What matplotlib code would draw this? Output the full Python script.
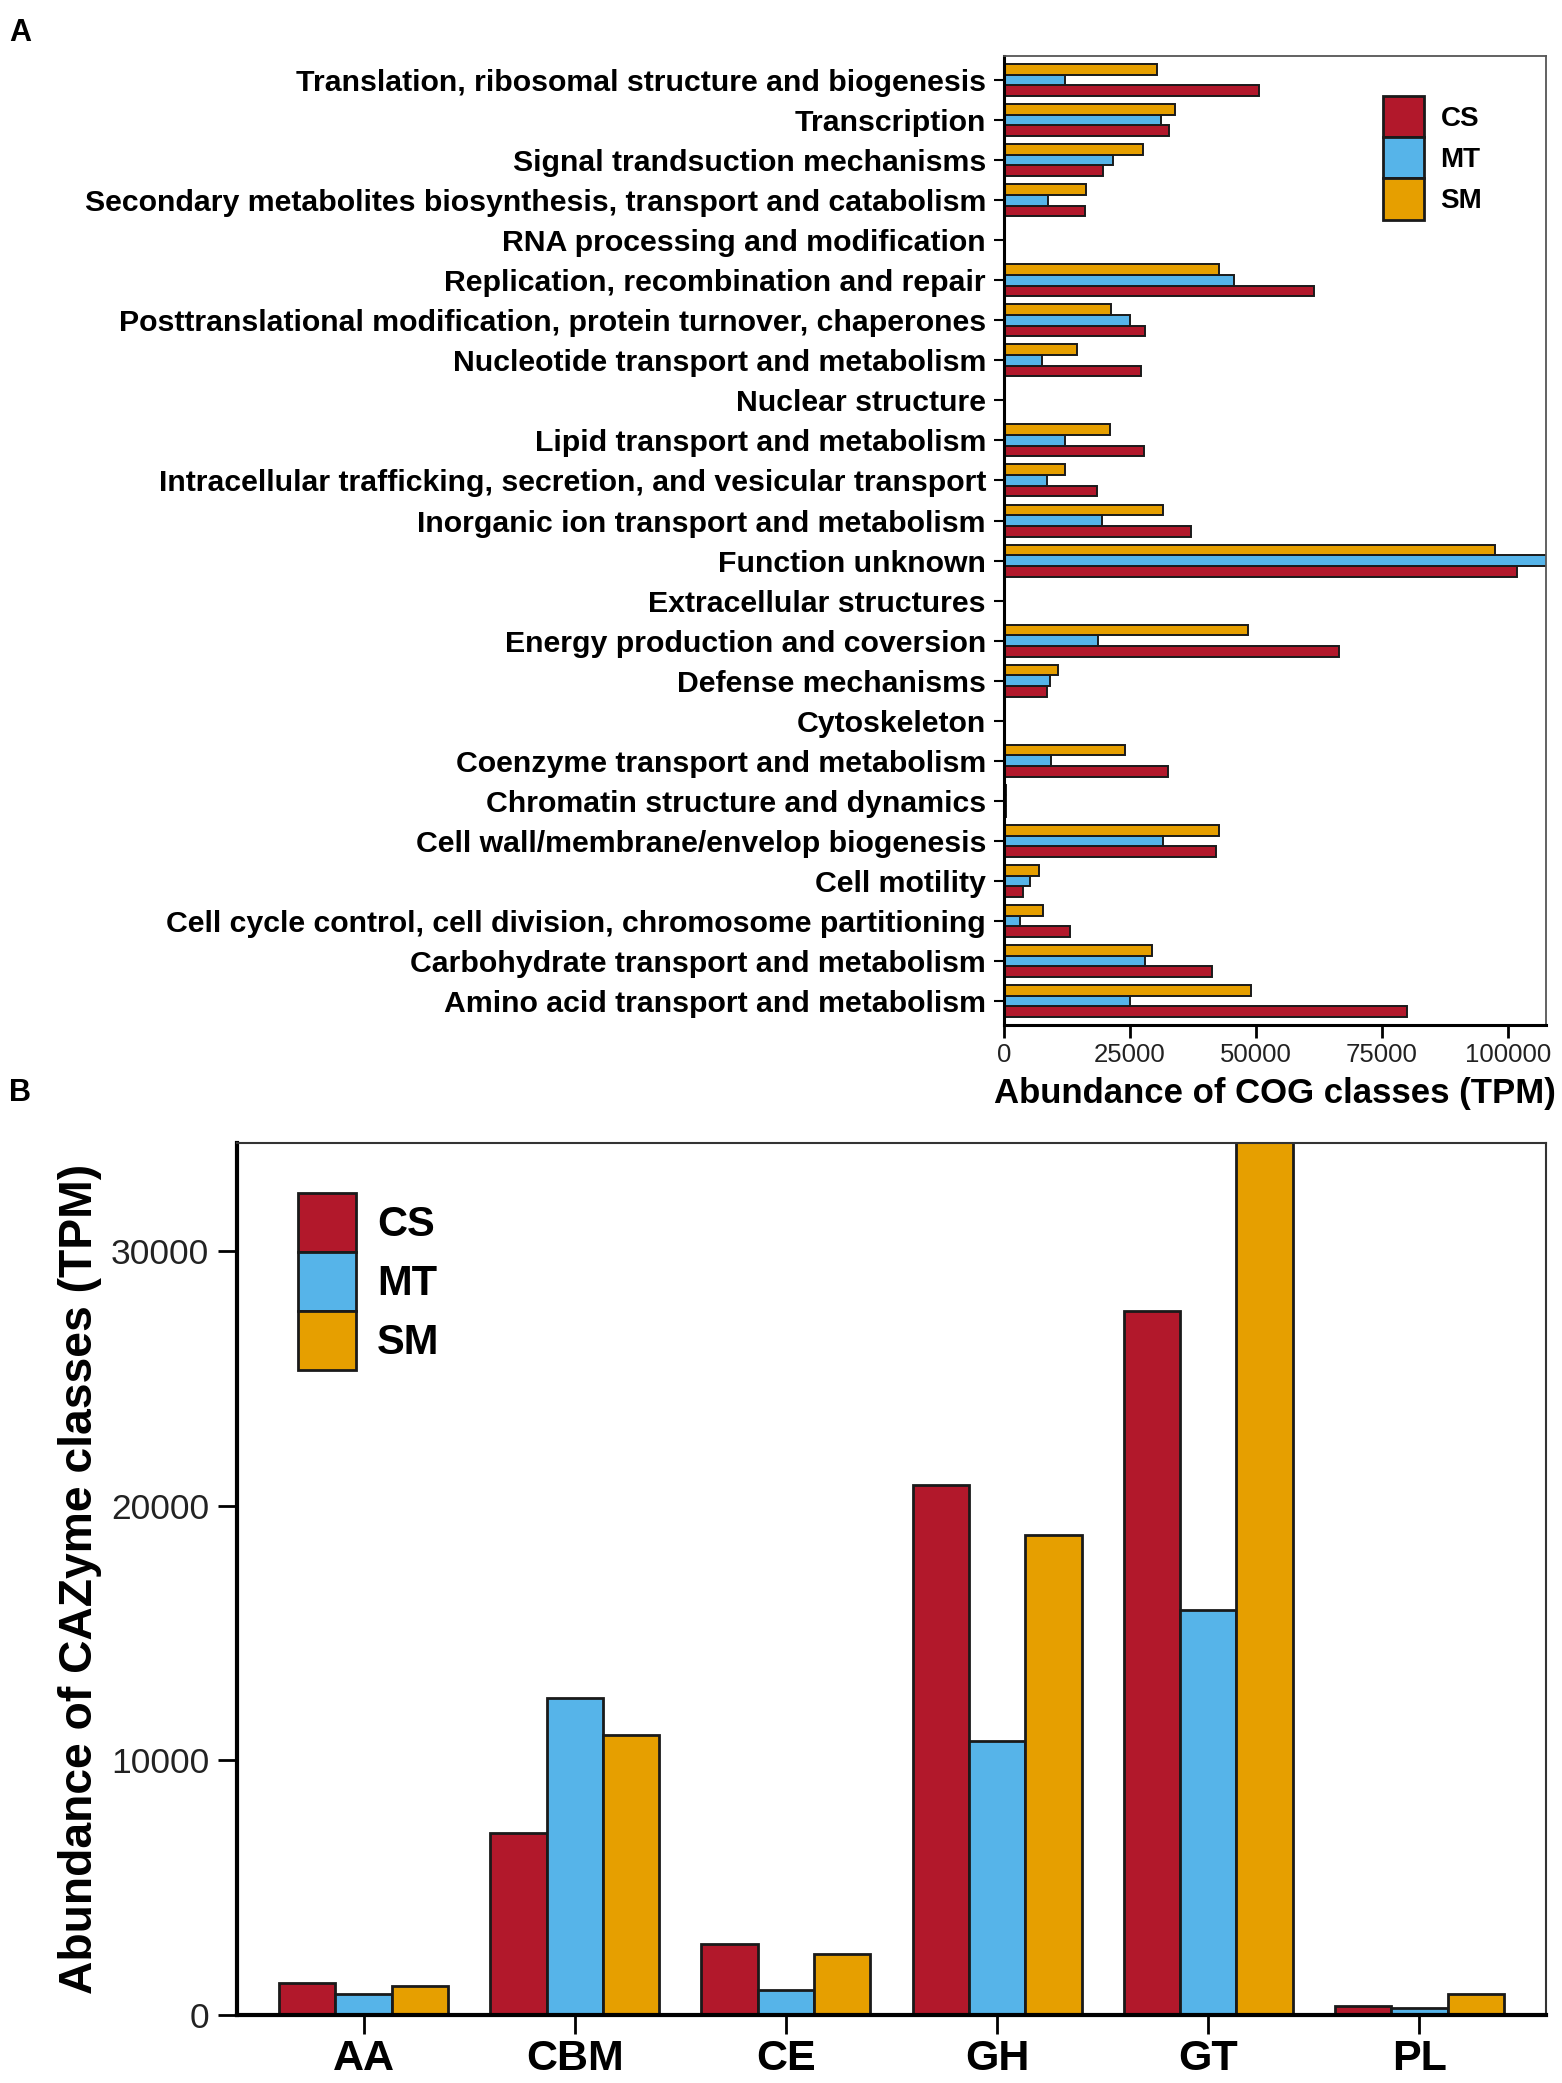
import numpy as np
import matplotlib
matplotlib.use('Agg')
import matplotlib.pyplot as plt

plt.rcParams['font.family'] = ['Liberation Sans', 'DejaVu Sans']

# panel A: COG classes, listed top to bottom as in the figure
cog_classes = [
    'Translation, ribosomal structure and biogenesis',
    'Transcription',
    'Signal trandsuction mechanisms',
    'Secondary metabolites biosynthesis, transport and catabolism',
    'RNA processing and modification',
    'Replication, recombination and repair',
    'Posttranslational modification, protein turnover, chaperones',
    'Nucleotide transport and metabolism',
    'Nuclear structure',
    'Lipid transport and metabolism',
    'Intracellular trafficking, secretion, and vesicular transport',
    'Inorganic ion transport and metabolism',
    'Function unknown',
    'Extracellular structures',
    'Energy production and coversion',
    'Defense mechanisms',
    'Cytoskeleton',
    'Coenzyme transport and metabolism',
    'Chromatin structure and dynamics',
    'Cell wall/membrane/envelop biogenesis',
    'Cell motility',
    'Cell cycle control, cell division, chromosome partitioning',
    'Carbohydrate transport and metabolism',
    'Amino acid transport and metabolism',
]
cog_cs = [50700, 32800, 19700, 16000, 150, 61600, 28000, 27200, 0, 27700, 18400, 37100,
          101800, 100, 66400, 8500, 100, 32500, 400, 42100, 3700, 13100, 41300, 80000]
cog_mt = [12000, 31200, 21600, 8800, 100, 45600, 25100, 7500, 0, 12000, 8500, 19500,
          110000, 50, 18700, 9100, 50, 9300, 300, 31500, 5100, 3200, 28000, 25100]
cog_sm = [30400, 33900, 27500, 16300, 150, 42700, 21300, 14400, 0, 21100, 12000, 31500,
          97500, 100, 48500, 10700, 100, 24000, 400, 42700, 6900, 7700, 29300, 49100]

# panel B: CAZyme classes
caz_classes = ['AA', 'CBM', 'CE', 'GH', 'GT', 'PL']
caz_cs = [1250, 7140, 2810, 20830, 27660, 360]
caz_mt = [830, 12450, 990, 10780, 15890, 260]
caz_sm = [1150, 10990, 2400, 18850, 36000, 830]

groups = ['CS', 'MT', 'SM']
colors = {'CS': '#B2182B', 'MT': '#56B4E9', 'SM': '#E69F00'}
edge = '#1a1a1a'

fig = plt.figure(figsize=(15.62, 20.83), dpi=100)

# ---------- panel A ----------
axA = fig.add_axes([0.6428, 0.5079, 0.3470, 0.4652])
n = len(cog_classes)
ypos = np.arange(n)[::-1]
h = 0.8 / 3
axA.barh(ypos - h, cog_cs, height=h, color=colors['CS'], edgecolor=edge, linewidth=1.4, label='CS')
axA.barh(ypos, cog_mt, height=h, color=colors['MT'], edgecolor=edge, linewidth=1.4, label='MT')
axA.barh(ypos + h, cog_sm, height=h, color=colors['SM'], edgecolor=edge, linewidth=1.4, label='SM')
axA.set_ylim(-0.6, n - 0.4)
axA.set_xlim(0, 107600)
axA.set_yticks(ypos)
axA.set_yticklabels(cog_classes, fontsize=21.8, fontweight='bold')
axA.set_xticks([0, 25000, 50000, 75000, 100000])
axA.set_xticklabels(['0', '25000', '50000', '75000', '100000'], fontsize=18.5, color='#222222')
axA.tick_params(axis='y', length=7, width=1.5, pad=6)
axA.tick_params(axis='x', length=9, width=2, pad=4)
for s in ['left', 'bottom']:
    axA.spines[s].set_linewidth(2.2)
    axA.spines[s].set_color('black')
for s in ['top', 'right']:
    axA.spines[s].set_linewidth(1.3)
    axA.spines[s].set_color('#555555')
axA.set_xlabel('Abundance of COG classes (TPM)', fontsize=25, fontweight='bold', va='top')
axA.xaxis.set_label_coords(0.5, -0.054)
legA = axA.legend(loc='upper left', bbox_to_anchor=(0.678, 0.97), frameon=False,
                  prop={'size': 20, 'weight': 'bold'}, handlelength=1.48, handleheight=1.9,
                  labelspacing=0.0, handletextpad=0.6, borderaxespad=0)

# ---------- panel B ----------
axB = fig.add_axes([0.1517, 0.0326, 0.8381, 0.4187])
x = np.arange(len(caz_classes))
w = 0.8 / 3
axB.bar(x - w, caz_cs, width=w, color=colors['CS'], edgecolor=edge, linewidth=2, label='CS')
axB.bar(x, caz_mt, width=w, color=colors['MT'], edgecolor=edge, linewidth=2, label='MT')
axB.bar(x + w, caz_sm, width=w, color=colors['SM'], edgecolor=edge, linewidth=2, label='SM')
axB.set_xlim(-0.6, len(caz_classes) - 0.4)
axB.set_ylim(0, 34240)
axB.set_xticks(x)
axB.set_xticklabels(caz_classes, fontsize=31, fontweight='bold')
axB.set_yticks([0, 10000, 20000, 30000])
axB.set_yticklabels(['0', '10000', '20000', '30000'], fontsize=25.5, color='#222222')
axB.tick_params(axis='x', length=14, width=2, pad=3)
axB.tick_params(axis='y', length=14, width=2, pad=6)
for s in ['left', 'bottom']:
    axB.spines[s].set_linewidth(3)
    axB.spines[s].set_color('black')
for s in ['top', 'right']:
    axB.spines[s].set_linewidth(1.5)
    axB.spines[s].set_color('#333333')
axB.set_ylabel('Abundance of CAZyme classes (TPM)', fontsize=33.3, fontweight='bold')
axB.yaxis.set_label_coords(-0.103, 0.5)
legB = axB.legend(loc='upper left', bbox_to_anchor=(0.034, 0.962), frameon=False,
                  prop={'size': 30, 'weight': 'bold'}, handlelength=1.4, handleheight=1.8,
                  labelspacing=0.0, handletextpad=0.5, borderaxespad=0)
for leg in (legA, legB):
    for p in leg.get_patches():
        p.set_edgecolor(edge)
        p.set_linewidth(2)

fig.text(0.006, 1 - 18 / 2083, 'A', fontsize=22, fontweight='bold', va='top', ha='left')
fig.text(0.006, 1 - 1078 / 2083, 'B', fontsize=22, fontweight='bold', va='top', ha='left')

fig.savefig('out.png', dpi=100)
